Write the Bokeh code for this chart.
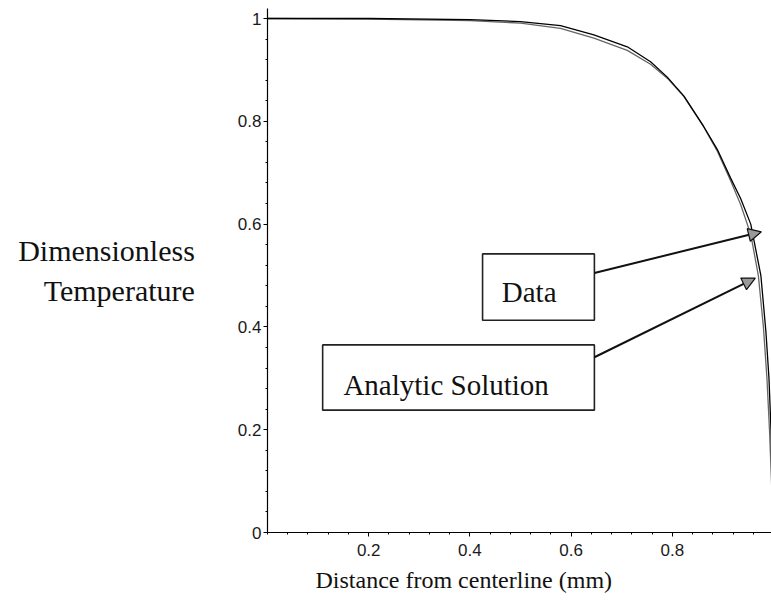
from bokeh.plotting import figure
from bokeh.models import (Range1d, FixedTicker, Label, Arrow, NormalHead, BoxAnnotation, Title)
from bokeh.embed import file_html
from bokeh.resources import INLINE

# ---- data ----
data_x = [0.0, 0.2, 0.4, 0.5, 0.579, 0.645, 0.711, 0.757, 0.790, 0.823, 0.862,
          0.889, 0.915, 0.935, 0.955, 0.975, 0.985, 0.991, 0.995, 1.0]
data_y = [1.0, 1.0, 0.998, 0.994, 0.986, 0.968, 0.945, 0.916, 0.886, 0.849, 0.790,
          0.745, 0.690, 0.650, 0.600, 0.500, 0.390, 0.300, 0.200, 0.0]

analytic_x = [0.0, 0.2, 0.4, 0.5, 0.579, 0.645, 0.711, 0.757, 0.790, 0.823, 0.862,
              0.889, 0.915, 0.935, 0.955, 0.970, 0.980, 0.987, 0.992, 1.0]
analytic_y = [1.0, 0.999, 0.996, 0.991, 0.981, 0.962, 0.938, 0.911, 0.884, 0.848, 0.789,
              0.742, 0.685, 0.638, 0.580, 0.500, 0.400, 0.300, 0.200, 0.0]

x_ticks = [0.2, 0.4, 0.6, 0.8, 1.0]
y_ticks = [0.0, 0.2, 0.4, 0.6, 0.8, 1.0]
minor_ticks = [round(i * 0.04, 2) for i in range(0, 26)]

x_title = "Distance from centerline (mm)"
y_title = "Dimensionless\nTemperature"
data_label = "Data"
analytic_label = "Analytic Solution"

serif = "Liberation Serif"

# ---- figure ----
p = figure(width=771, height=607, output_backend="svg", toolbar_location=None,
           x_range=Range1d(0.0, 0.996), y_range=Range1d(0.0, 1.0195),
           min_border_left=267, min_border_right=0, min_border_top=8, min_border_bottom=75)
p.outline_line_color = None
p.xgrid.visible = False
p.ygrid.visible = False
p.background_fill_color = "white"
p.border_fill_color = "white"

for ax, ticks in ((p.xaxis[0], x_ticks), (p.yaxis[0], y_ticks)):
    ax.ticker = FixedTicker(ticks=ticks, minor_ticks=minor_ticks)
    ax.major_label_overrides = {0: "0", 0.2: "0.2", 0.4: "0.4", 0.6: "0.6", 0.8: "0.8", 1: "1"}
    ax.axis_line_color = "black"
    ax.axis_line_width = 1.2
    ax.major_tick_line_color = "black"
    ax.minor_tick_line_color = "black"
    ax.major_tick_in = 0
    ax.major_tick_out = 4
    ax.minor_tick_in = 0
    ax.minor_tick_out = 2
    ax.major_label_text_font = "Liberation Sans"
    ax.major_label_text_font_size = "17px"
    ax.major_label_text_color = "#1a1a1a"
p.xaxis[0].major_label_standoff = 7
p.yaxis[0].major_label_standoff = 2

# y axis title, horizontal, left of the tick labels
yax = p.yaxis[0]
yax.axis_label = y_title
yax.axis_label_orientation = "horizontal"
yax.axis_label_standoff = 40
yax.axis_label_text_font = serif
yax.axis_label_text_font_size = "30px"
yax.axis_label_text_font_style = "normal"
yax.axis_label_text_color = "#111111"
yax.axis_label_text_align = "left"

# x axis title as a title below the axis
p.add_layout(Title(text=x_title, align="left", offset=48, standoff=12,
                   text_font=serif, text_font_size="24px", text_font_style="normal",
                   text_color="#111111"), "below")

# curves
p.line(analytic_x, analytic_y, line_color="#666666", line_width=1.3)
p.line(data_x, data_y, line_color="black", line_width=1.3)

# annotation boxes
p.add_layout(BoxAnnotation(left=0.425, right=0.646, top=0.542, bottom=0.413,
                           fill_color="white", fill_alpha=1.0,
                           line_color="#222222", line_alpha=1.0, line_width=1.6))
p.add_layout(BoxAnnotation(left=0.109, right=0.646, top=0.365, bottom=0.238,
                           fill_color="white", fill_alpha=1.0,
                           line_color="#222222", line_alpha=1.0, line_width=1.6))

p.add_layout(Label(x=0.463, y=0.468, text=data_label, text_font=serif,
                   text_font_size="29px", text_baseline="alphabetic", text_color="#111111"))
p.add_layout(Label(x=0.150, y=0.287, text=analytic_label, text_font=serif,
                   text_font_size="29px", text_baseline="alphabetic", text_color="#111111"))

# arrows
p.add_layout(Arrow(x_start=0.646, y_start=0.505, x_end=0.976, y_end=0.585,
                   line_width=2, line_color="#111111",
                   end=NormalHead(size=13, fill_color="#999999", line_color="#111111", line_width=1.2)))
p.add_layout(Arrow(x_start=0.646, y_start=0.341, x_end=0.964, y_end=0.495,
                   line_width=2, line_color="#111111",
                   end=NormalHead(size=13, fill_color="#999999", line_color="#111111", line_width=1.2)))

open("out.html", "w").write(file_html(p, INLINE))
